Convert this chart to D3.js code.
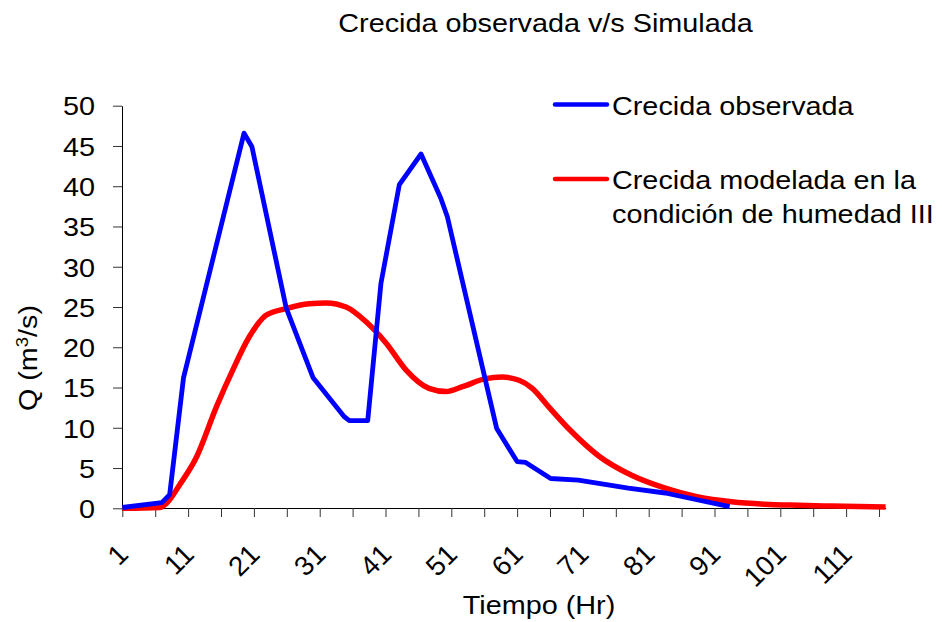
<!DOCTYPE html>
<html>
<head>
<meta charset="utf-8">
<script src="https://cdn.jsdelivr.net/npm/d3@7"></script>
<style>
  body { margin: 0; background: #fff; }
  text { font-family: "Liberation Sans", Arial, sans-serif; fill: #000; }
</style>
</head>
<body>
<div id="chart"></div>
<script>
// data (hour, Q in m3/s)
var obsHour = [1, 7, 8.2, 10.3, 19.5, 20.7, 25.9, 30.0, 34.7, 35.5, 38.3, 40.3, 43.1, 46.4, 49.4, 50.4, 57.9, 61.0, 62.3, 66.1, 70.3, 77.9, 83.5, 93.3];
var obsQ    = [0.1, 0.7, 1.7, 16.2, 46.6, 44.9, 24.9, 16.2, 11.4, 10.9, 10.9, 27.9, 40.2, 44.0, 38.5, 36.2, 9.9, 5.8, 5.7, 3.7, 3.5, 2.5, 1.9, 0.2];

var modHour = [1, 6.7, 7.7, 9.7, 12.3, 15.3, 17.8, 20.3, 22.9, 25.9, 29.4, 32.0, 35.0, 38.0, 41.1, 44.1, 47.6, 50.2, 52.7, 56.2, 58.7, 61.3, 63.3, 65.8, 69.3, 73.4, 78.4, 83.5, 88.5, 93.6, 98.6, 103.7, 108.7, 117];
var modQ    = [0, 0.1, 0.6, 2.9, 6.4, 12.6, 17.2, 21.3, 24.0, 24.8, 25.4, 25.5, 25.0, 23.2, 20.5, 17.2, 14.9, 14.5, 15.1, 16.1, 16.3, 15.9, 14.9, 12.6, 9.5, 6.5, 4.1, 2.5, 1.4, 0.8, 0.5, 0.37, 0.28, 0.15];

var xTickValues = d3.range(1, 117, 5);
var xTickLabels = [1, 11, 21, 31, 41, 51, 61, 71, 81, 91, 101, 111];
var yTicks = [0, 5, 10, 15, 20, 25, 30, 35, 40, 45, 50];

var seriesNames = ["Crecida observada", ["Crecida modelada en la", "condición de humedad III"]];
var seriesColors = ["#0000ff", "#ff0000"];

var width = 943, height = 622;
var stretch = "scale(1.087,1)";

var svg = d3.select("#chart")
  .append("svg")
  .attr("width", width)
  .attr("height", height);

var x = d3.scaleLinear().domain([1, 117]).range([122.3, 885.6]);
var y = d3.scaleLinear().domain([0, 50]).range([508.3, 105.7]);

// title
svg.append("text")
  .attr("transform", "translate(545.5,32) " + stretch)
  .attr("text-anchor", "middle")
  .style("font-size", "26.5px")
  .text("Crecida observada v/s Simulada");

// y axis
var yAxis = svg.append("g")
  .attr("transform", "translate(122,0)")
  .call(d3.axisLeft(y).tickValues(yTicks).tickSize(9).tickSizeOuter(0));
yAxis.select(".domain").attr("stroke", "#000");
yAxis.selectAll(".tick line").attr("stroke", "#333");
yAxis.selectAll(".tick text")
  .attr("x", 0)
  .attr("dy", "0.35em")
  .attr("transform", "translate(-27,0) " + stretch)
  .style("font-size", "26.5px");

// x axis
var xAxis = svg.append("g")
  .attr("transform", "translate(0,508)")
  .call(d3.axisBottom(x)
    .tickValues(xTickValues)
    .tickSize(9)
    .tickSizeOuter(0)
    .tickFormat(function (d) { return xTickLabels.indexOf(d) >= 0 ? d : ""; }));
xAxis.select(".domain").attr("stroke", "#000");
xAxis.selectAll(".tick line").attr("stroke", "#333");
xAxis.selectAll(".tick text")
  .attr("x", 0)
  .attr("y", 0)
  .attr("dy", 0)
  .attr("text-anchor", "end")
  .attr("transform", "translate(7,48) rotate(-45)")
  .style("font-size", "27.5px");

// axis titles
svg.append("text")
  .attr("transform", "translate(539,614) " + stretch)
  .attr("text-anchor", "middle")
  .style("font-size", "26.5px")
  .text("Tiempo (Hr)");

var yt = svg.append("text")
  .attr("transform", "translate(36.5,358) rotate(-90) scale(1.087,1)")
  .attr("text-anchor", "middle")
  .style("font-size", "26.5px");
yt.append("tspan").text("Q (m");
yt.append("tspan").attr("dy", "-9").style("font-size", "17px").text("3");
yt.append("tspan").attr("dy", "9").text("/s)");

// lines
var line = d3.line()
  .x(function (d) { return x(d[0]); })
  .y(function (d) { return y(d[1]); });

svg.append("path")
  .datum(d3.zip(modHour, modQ))
  .attr("fill", "none")
  .attr("stroke", seriesColors[1])
  .attr("stroke-width", 5.5)
  .attr("stroke-linejoin", "round")
  .attr("d", line.curve(d3.curveMonotoneX));

svg.append("path")
  .datum(d3.zip(obsHour, obsQ))
  .attr("fill", "none")
  .attr("stroke", seriesColors[0])
  .attr("stroke-width", 4.8)
  .attr("stroke-linejoin", "round")
  .attr("d", line.curve(d3.curveLinear));

// legend
var legendY = [104.5, 179];
seriesNames.forEach(function (name, i) {
  svg.append("line")
    .attr("x1", 555).attr("x2", 607)
    .attr("y1", legendY[i]).attr("y2", legendY[i])
    .attr("stroke", seriesColors[i])
    .attr("stroke-width", 4.5)
    .attr("stroke-linecap", "round");
  var lines = Array.isArray(name) ? name : [name];
  lines.forEach(function (t, j) {
    svg.append("text")
      .attr("transform", "translate(612," + (legendY[i] + 10 + j * 34) + ") " + stretch)
      .style("font-size", "26.5px")
      .text(t);
  });
});
</script>
</body>
</html>
